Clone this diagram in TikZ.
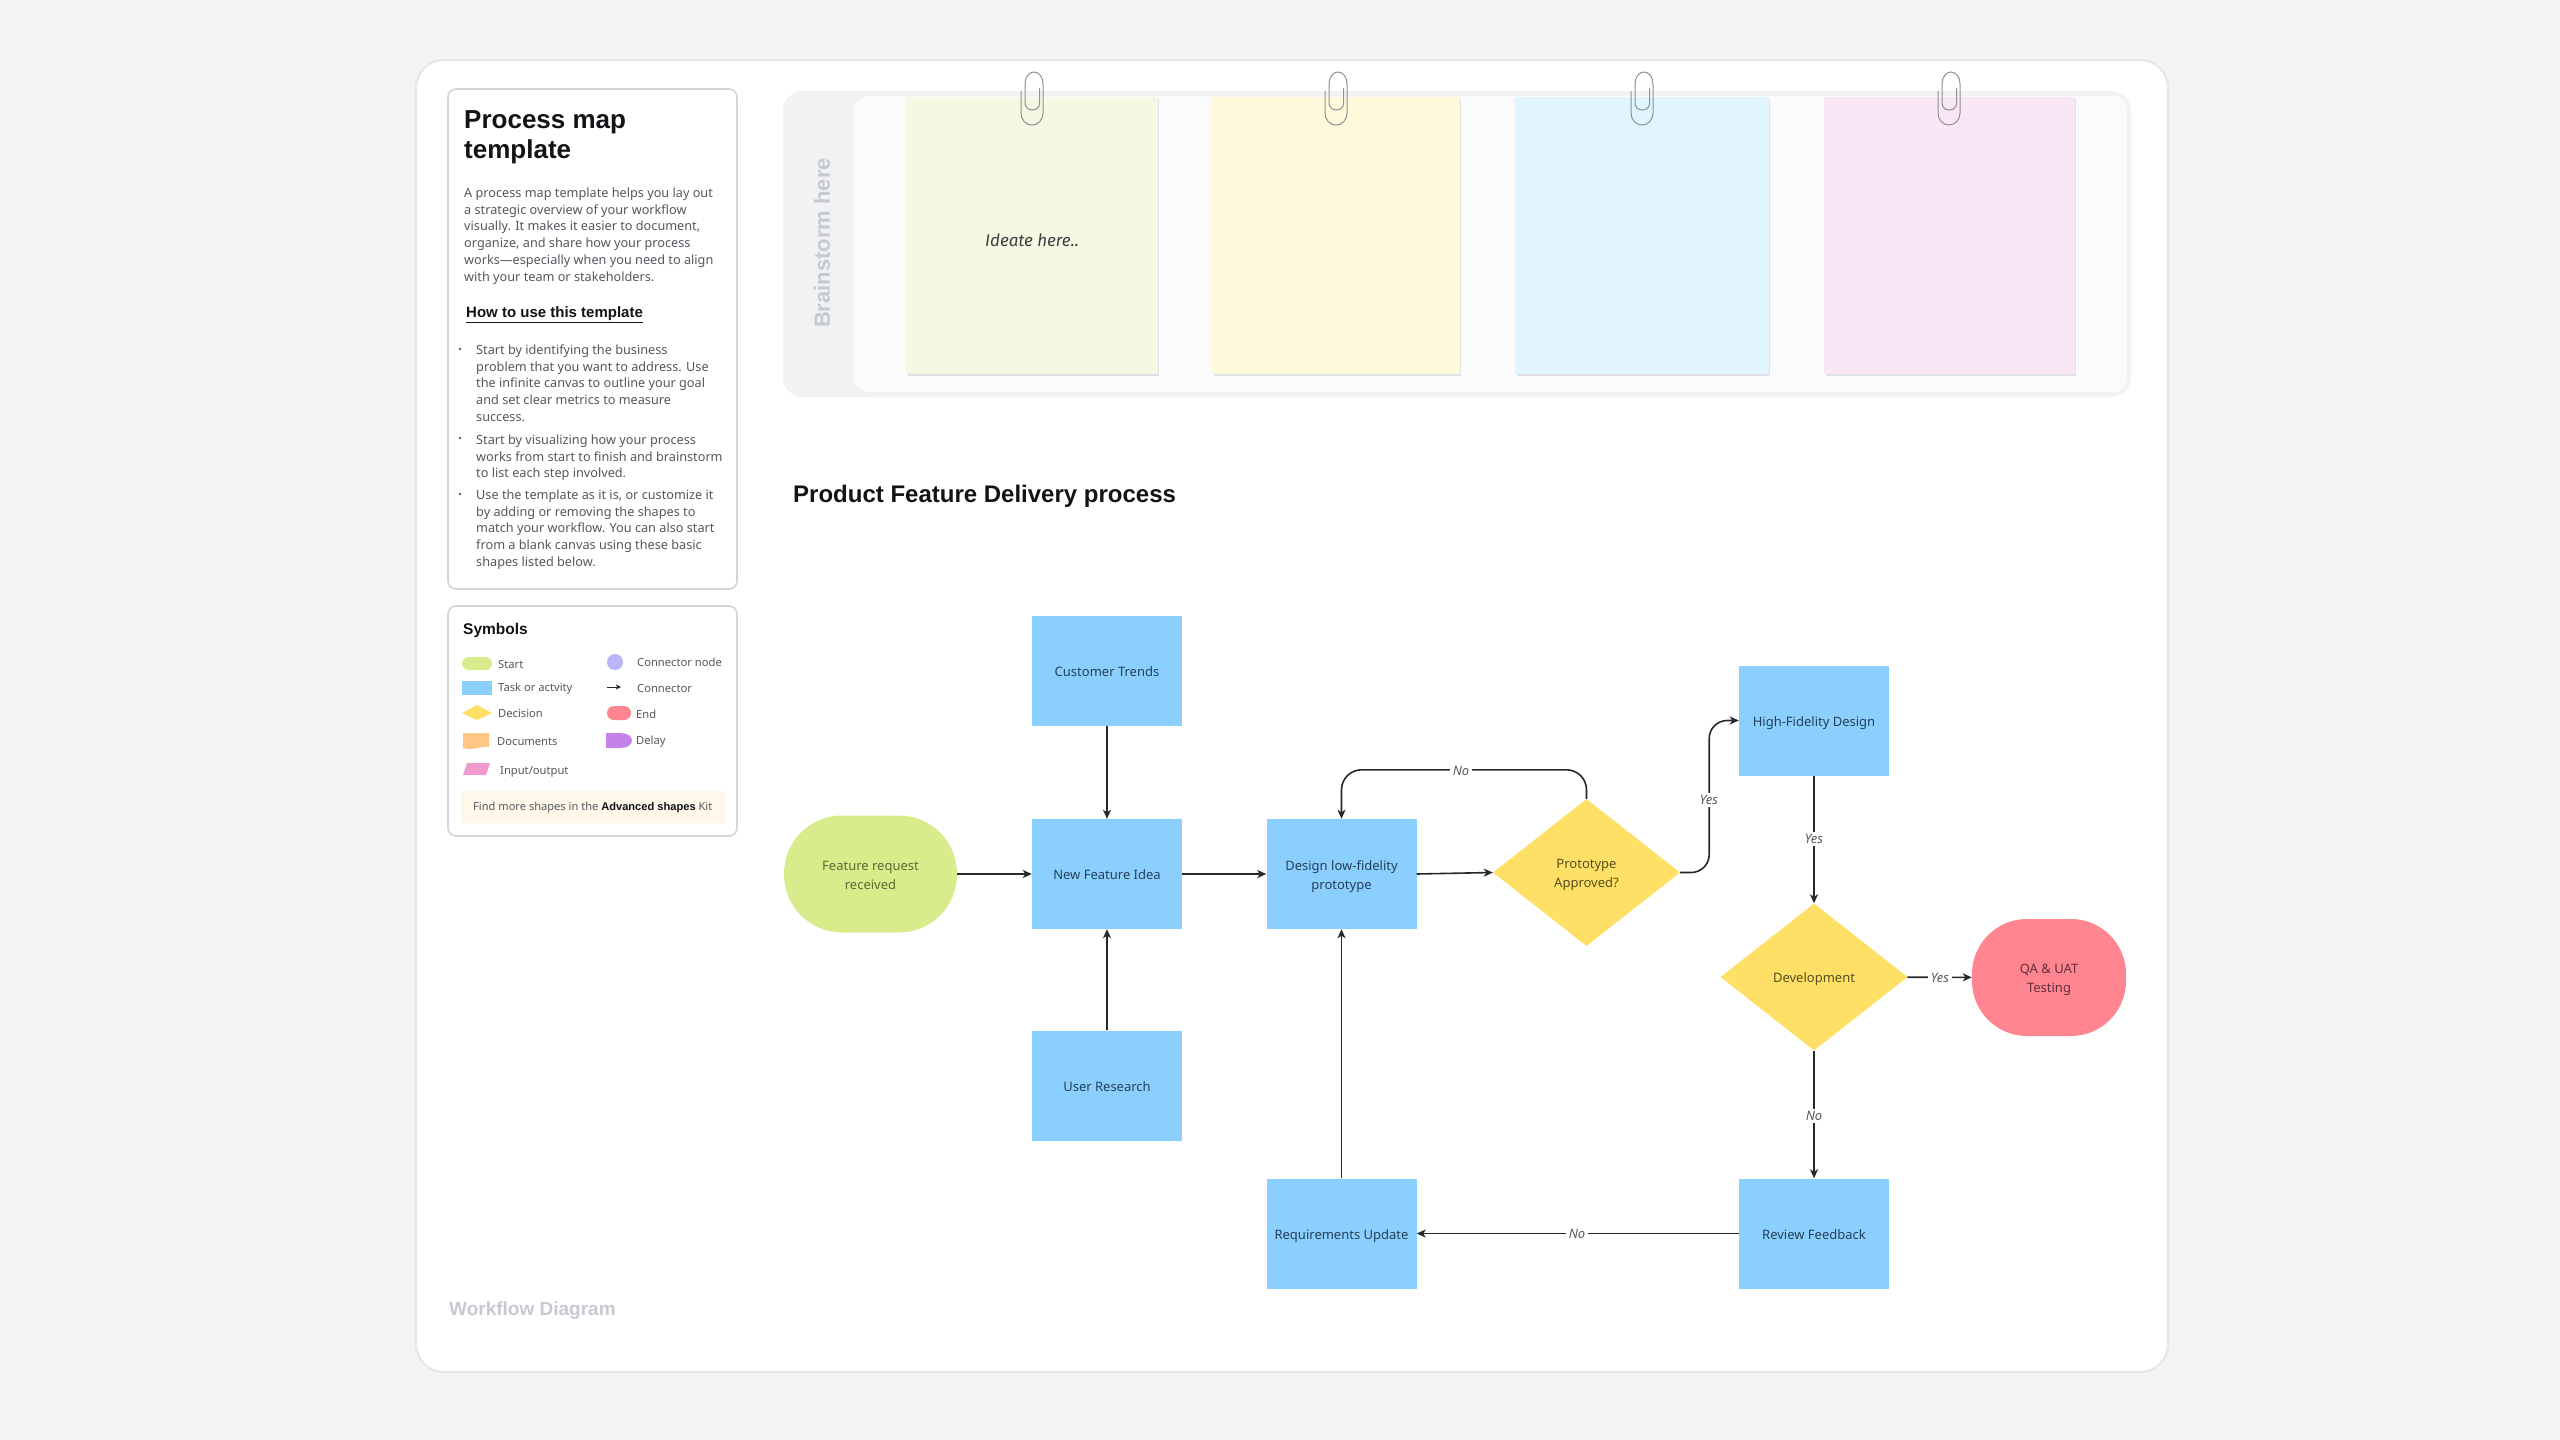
\documentclass[tikz,border=0pt]{standalone}
\usepackage{fontspec}
\setmainfont{Noto Sans}
\newfontfamily\headf{Liberation Sans}
\newfontfamily\handf{Fira Sans}
\usetikzlibrary{shapes.geometric,arrows.meta}
\definecolor{pagebg}{HTML}{F3F5F5}
\definecolor{cardline}{HTML}{E4E6E8}
\definecolor{panelline}{HTML}{D3D5D9}
\definecolor{bodytxt}{HTML}{54585E}
\definecolor{titletxt}{HTML}{111316}
\definecolor{barbg}{HTML}{F1F2F4}
\definecolor{innerbg}{HTML}{FBFBFC}
\definecolor{stickA}{HTML}{F5F8E2}
\definecolor{stickB}{HTML}{FFF9DC}
\definecolor{stickC}{HTML}{E1F5FE}
\definecolor{stickD}{HTML}{FAE7F5}
\definecolor{stickshadow}{HTML}{E0E1E4}
\definecolor{clipline}{HTML}{8E9094}
\definecolor{taskblue}{HTML}{8BCFFF}
\definecolor{decyellow}{HTML}{FFE066}
\definecolor{endpink}{HTML}{FF8590}
\definecolor{startgreen}{HTML}{D8EC8C}
\definecolor{docorange}{HTML}{FFC685}
\definecolor{delaypurple}{HTML}{C583EA}
\definecolor{iopink}{HTML}{F19ACE}
\definecolor{connlav}{HTML}{B9B5F8}
\definecolor{bannerbg}{HTML}{FFF8EA}
\definecolor{edgeline}{HTML}{26282B}
\definecolor{faint}{HTML}{C6C9D2}
\definecolor{tasktxt}{HTML}{24405A}
\definecolor{dectxt}{HTML}{574E1E}
\definecolor{starttxt}{HTML}{5E6A32}
\definecolor{endtxt}{HTML}{66303A}
\newcommand{\lowerby}[2]{\raisebox{-#1pt}[\height][\depth]{\begin{tabular}{@{}c@{}}#2\end{tabular}}}
\tikzset{
  x=1pt,y=-1pt,
  bodytext/.style={anchor=north west,inner sep=0,align=left,text=bodytxt,font=\fontsize{12.7}{16.75}\selectfont},
  symlabel/.style={anchor=west,inner sep=0,text=bodytxt,font=\fontsize{11.2}{14}\selectfont},
  headtext/.style={anchor=west,inner sep=0,text=titletxt},
  taskbox/.style={rectangle,fill=taskblue,minimum width=150,minimum height=110,inner sep=0,text=tasktxt,font=\fontsize{13}{19}\selectfont},
  decbox/.style={diamond,aspect=1.265,fill=decyellow,minimum width=187,minimum height=147,inner sep=0,text=dectxt,font=\fontsize{13}{19}\selectfont},
  termbox/.style={rectangle,rounded corners=55,inner sep=0,font=\fontsize{13}{19}\selectfont},
  edge/.style={draw=edgeline,line width=1.6,-{Stealth[length=9,width=8,inset=2.5]}},
  edgelabel/.style={fill=white,inner xsep=3,inner ysep=2,text=black!65,font=\fontsize{13}{15}\selectfont\itshape},
  clippath/.style={draw=clipline,line width=1,fill=none},
}
\newcommand{\paperclip}[1]{%
  \draw[clippath] (#1-11,91) -- (#1-11,113) .. controls (#1-11,120) and (#1-6,125) .. (#1,125)
    .. controls (#1+6,125) and (#1+11,120) .. (#1+11,113) -- (#1+11,84)
    .. controls (#1+11,77) and (#1+7,72) .. (#1+2,72)
    .. controls (#1-3,72) and (#1-7,77) .. (#1-7,84)
    -- (#1-7,103) .. controls (#1-7,107) and (#1-4,110) .. (#1+0.3,110)
    .. controls (#1+4.6,110) and (#1+7.6,107) .. (#1+7.6,103) -- (#1+7.6,88);
}
\begin{document}
\begin{tikzpicture}
\useasboundingbox (0,0) rectangle (2560,1440);
\fill[pagebg] (0,0) rectangle (2560,1440);
% main card
\draw[cardline,line width=2,fill=white,rounded corners=28] (416,60) rectangle (2168,1372);
% left panels
\draw[panelline,line width=1.6,fill=white,rounded corners=8] (448,89) rectangle (737,589);
\draw[panelline,line width=1.6,fill=white,rounded corners=8] (448,606) rectangle (737,836);
\node[anchor=north west,inner sep=0,align=left,text=titletxt,font=\headf\fontsize{26}{30}\selectfont\bfseries] (maintitle) at (464,110) {Process map\\template};
\node[bodytext] (intro) at (464,187.5) {A process map template helps you lay out\\a strategic overview of your workflow\\visually. It makes it easier to document,\\organize, and share how your process\\works—especially when you need to align\\with your team or stakeholders.};
\node[headtext,font=\headf\fontsize{15}{17}\selectfont\bfseries] (howto) at (466,314.5) {\underline{How to use this template}};
\node[bodytext] (bulletA) at (476,344.5) {Start by identifying the business\\problem that you want to address. Use\\the infinite canvas to outline your goal\\and set clear metrics to measure\\success.};
\node[bodytext] (bulletB) at (476,434.5) {Start by visualizing how your process\\works from start to finish and brainstorm\\to list each step involved.};
\node[bodytext] (bulletC) at (476,489.5) {Use the template as it is, or customize it\\by adding or removing the shapes to\\match your workflow. You can also start\\from a blank canvas using these basic\\shapes listed below.};
\fill[bodytxt] (460,349) circle (1.4);
\fill[bodytxt] (460,438) circle (1.4);
\fill[bodytxt] (460,494) circle (1.4);
% symbols
\node[headtext,font=\headf\fontsize{15.5}{18}\selectfont\bfseries] (symtitle) at (463,630) {Symbols};
\fill[startgreen,rounded corners=6.5] (462,657) rectangle (492,670);
\node[symlabel] (lstart) at (498,664.5) {Start};
\fill[taskblue] (462,681) rectangle (492,695);
\node[symlabel] (ltask) at (498,689) {Task or actvity};
\fill[decyellow] (462,713) -- (477,705) -- (492,713) -- (477,720) -- cycle;
\node[symlabel] (ldec) at (498,713) {Decision};
\fill[docorange] (463,733) -- (489,733) -- (489,747) .. controls (480,746) and (472,751) .. (463,748) -- cycle;
\node[symlabel] (ldoc) at (497,741.5) {Documents};
\fill[iopink] (467,763) -- (490,763) -- (486,775) -- (463,775) -- cycle;
\node[symlabel] (lio) at (500,771.5) {Input/output};
\fill[connlav] (615,662) circle (8);
\node[symlabel] (lconn) at (637,662) {Connector node};
\coordinate (symfrom) at (607,687);
\coordinate (symto) at (621,687);
\draw[edgeline,line width=1,-{Stealth[length=5,width=5,inset=1.2]}] (symfrom) -- (symto);
\node[symlabel] (lconnector) at (637,688) {Connector};
\fill[endpink,rounded corners=7] (607,706) rectangle (631,720);
\node[symlabel] (lend) at (636,714) {End};
\fill[delaypurple] (606,733) -- (620,733) .. controls (627,733) and (632,736) .. (632,740.5) .. controls (632,745) and (627,748) .. (620,748) -- (606,748) -- cycle;
\node[symlabel] (ldelay) at (636,742) {Delay};
\fill[bannerbg,rounded corners=2] (461,791) rectangle (725,823);
\node[anchor=west,inner sep=0,text=bodytxt,font=\fontsize{11.1}{14}\selectfont] (banner) at (473,807.5) {Find more shapes in the {\headf\bfseries\color{titletxt}Advanced shapes} Kit};
% brainstorm
\fill[barbg,rounded corners=20] (783,91) rectangle (2131,397);
\fill[innerbg,rounded corners=14] (854,96) rectangle (2127,392);
\node[rotate=90,inner sep=0,text=faint,font=\headf\fontsize{22}{26}\selectfont\bfseries] (brain) at (822,243) {Brainstorm here};
\foreach \xa/\xb/\col in {906/1158/stickA,1212/1460/stickB,1515/1769/stickC,1824/2075/stickD}{
  \fill[stickshadow] (\xa+2,99) rectangle (\xb+1,376);
  \fill[\col] (\xa,97) rectangle (\xb,374);
}
\paperclip{1032}
\paperclip{1336}
\paperclip{1642}
\paperclip{1949}
\node[inner sep=0,text=black!75,font=\handf\fontsize{17}{20}\selectfont\itshape] (ideate) at (1032,240) {Ideate here..};
% heading
\node[headtext,font=\headf\fontsize{24}{28}\selectfont\bfseries] (heading) at (793,496.5) {Product Feature Delivery process};
% flow
\node[termbox,fill=startgreen,minimum width=173,minimum height=117,rounded corners=58,text=starttxt] (start) at (870.5,874) {\lowerby{2}{Feature request\\received}};
\node[taskbox] (trends) at (1107,670.5) {\lowerby{2}{Customer Trends}};
\node[taskbox] (idea) at (1107,874) {\lowerby{2}{New Feature Idea}};
\node[taskbox] (research) at (1107,1085.5) {\lowerby{2}{User Research}};
\node[taskbox] (design) at (1341.5,874) {\lowerby{2}{Design low-fidelity\\prototype}};
\node[decbox] (proto) at (1586.5,872.5) {\lowerby{2}{Prototype\\Approved?}};
\node[taskbox] (hifi) at (1814,720.5) {\lowerby{2}{High-Fidelity Design}};
\node[decbox] (dev) at (1814,977) {\lowerby{2}{Development}};
\node[termbox,fill=endpink,minimum width=154,minimum height=117,text=endtxt] (qa) at (2049,977.5) {\lowerby{2}{QA \& UAT\\Testing}};
\node[taskbox] (review) at (1814,1233.5) {\lowerby{2}{Review Feedback}};
\node[taskbox] (req) at (1341.5,1233.5) {\lowerby{2}{Requirements Update}};
% connectors
\draw[edge] (start) -- (idea);
\draw[edge] (trends) -- (idea);
\draw[edge] (research) -- (idea);
\draw[edge] (idea) -- (design);
\draw[edge] (design.east) -- (proto.west);
\draw[edge,rounded corners=18] (proto.east) -- ++(29,0) |- (hifi.west);
\draw[edge,rounded corners=20] (proto.north) -- ++(0,-29) -| (design.north);
\draw[edge] (hifi) -- (dev);
\draw[edge] (dev) -- (qa);
\draw[edge] (dev) -- (review);
\draw[edge] (review) -- (req);
\draw[edge] (req) -- (design);
% connector labels
\node[edgelabel] (noA) at (1461,771) {No};
\node[edgelabel] (yesA) at (1709,800) {Yes};
\node[edgelabel] (yesB) at (1814,839) {Yes};
\node[edgelabel] (yesC) at (1940,977.5) {Yes};
\node[edgelabel] (noB) at (1814,1116) {No};
\node[edgelabel] (noC) at (1577,1233.5) {No};
% footer
\node[headtext,text=faint,font=\headf\fontsize{19}{22}\selectfont\bfseries] (footer) at (449,1310.5) {Workflow Diagram};
\end{tikzpicture}
\end{document}
